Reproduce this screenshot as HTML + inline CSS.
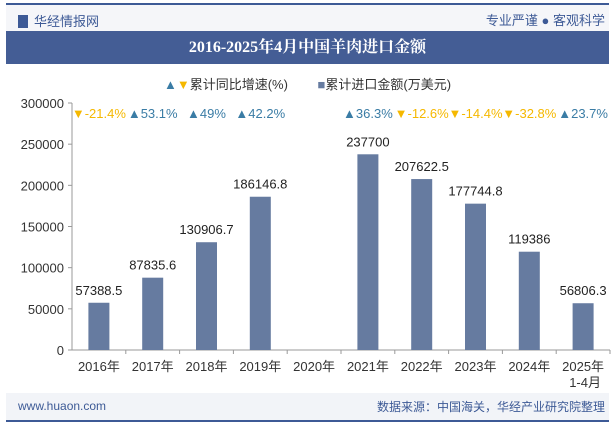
<!DOCTYPE html>
<html><head><meta charset="utf-8"><style>
body{margin:0;width:615px;height:427px;background:#fff;font-family:"Liberation Sans","Noto Sans CJK SC",sans-serif;overflow:hidden;position:relative}
</style></head><body>
<div style="position:absolute;left:6px;top:3px;width:603px;height:2px;background:#3d5a96"></div>
<div style="position:absolute;left:6px;top:5px;width:603px;height:26px;background:#f5f6f9"></div>
<div style="position:absolute;left:18px;top:11px;font-size:13px;color:#3d5a96"><span style="display:inline-block;width:10px;height:13px;background:#3d5a96;vertical-align:-2px;margin-right:6px"></span>华经情报网</div>
<div style="position:absolute;right:10px;top:10px;font-size:13px;color:#3d5a96">专业严谨 ● 客观科学</div>
<div style="position:absolute;left:6px;top:31px;width:603px;height:33px;background:#445d95;color:#fff;font-family:'Liberation Serif','Noto Serif CJK SC',serif;font-weight:bold;font-size:16px;line-height:33px;text-align:center">2016-2025年4月中国羊肉进口金额</div>
<div style="position:absolute;left:0;top:74px;width:615px;text-align:center;font-size:13px;color:#333">
<span><span style="color:#3a7ca5">▲</span><span style="color:#f5b800">▼</span>累计同比增速(%)</span>
<span style="margin-left:26px"><span style="color:#667ba0">■</span>累计进口金额(万美元)</span></div>
<svg id="chart" width="615" height="427" style="position:absolute;left:0;top:0"></svg>
<div style="position:absolute;left:6px;top:393px;width:603px;height:27px;background:#f2f4f8"></div>
<div style="position:absolute;left:18px;top:399px;font-size:12px;color:#3d5a96">www.huaon.com</div>
<div style="position:absolute;right:10px;top:398px;font-size:12px;color:#3d5a96">数据来源：中国海关，华经产业研究院整理</div>
<div style="position:absolute;left:6px;top:420px;width:603px;height:2px;background:#3d5a96"></div>
<script>
const categories=["2016年","2017年","2018年","2019年","2020年","2021年","2022年","2023年","2024年","2025年"];
const values=[57388.5,87835.6,130906.7,186146.8,null,237700,207622.5,177744.8,119386,56806.3];
const valueLabels=["57388.5","87835.6","130906.7","186146.8","","237700","207622.5","177744.8","119386","56806.3"];
const growth=[-21.4,53.1,49,42.2,null,36.3,-12.6,-14.4,-32.8,23.7];
const yTicks=[0,50000,100000,150000,200000,250000,300000];
const NS="http://www.w3.org/2000/svg",svg=document.getElementById('chart');
const x0=72,x1=610,yb=350,yt=103,ymax=300000,bw=(x1-x0)/categories.length;
const y=v=>yb-(v/ymax)*(yb-yt);
const xc=i=>x0+bw*(i+0.5);
function mk(t,a,txt){const e=document.createElementNS(NS,t);for(const k in a)e.setAttribute(k,a[k]);if(txt!=null)e.textContent=txt;svg.appendChild(e);return e;}
let ax=mk('line',{x1:x0,y1:yt,x2:x0,y2:yb,stroke:'#999'});


let bx=mk('line',{x1:x0,y1:yb,x2:x1,y2:yb,stroke:'#999'});


yTicks.forEach(v=>{
 mk('line',{x1:x0-4,y1:y(v),x2:x0,y2:y(v),stroke:'#999'});
 let t=mk('text',{x:x0-8,y:y(v)+5,'text-anchor':'end','font-size':13,fill:'#333'},v);
 
 
});
categories.forEach((c,i)=>{
 mk('line',{x1:x0+bw*(i+1),y1:yb,x2:x0+bw*(i+1),y2:yb+4,stroke:'#999'});
 let t=mk('text',{x:xc(i),y:yb+21,'text-anchor':'middle','font-size':13,fill:'#333'},c);
 
 
 if(i==categories.length-1){let s=mk('text',{x:xc(i)+2,y:yb+37,'text-anchor':'middle','font-size':13,fill:'#333'},'1-4月');
  
  }
 if(values[i]!=null){
  let r=mk('rect',{x:xc(i)-10.5,y:y(values[i]),width:21,height:yb-y(values[i]),fill:'#667ba0'});
  
  
  let l=mk('text',{x:xc(i),y:y(values[i])-8,'text-anchor':'middle','font-size':13,fill:'#222'},valueLabels[i]);
  
  
 }
 if(growth[i]!=null){
  const up=growth[i]>=0;
  let g=mk('text',{x:xc(i),y:118,'text-anchor':'middle','font-size':13,fill:up?'#3a7ca5':'#f5b800'},(up?'▲':'▼')+growth[i]+'%');
  
  
 }
});
</script>
</body></html>
